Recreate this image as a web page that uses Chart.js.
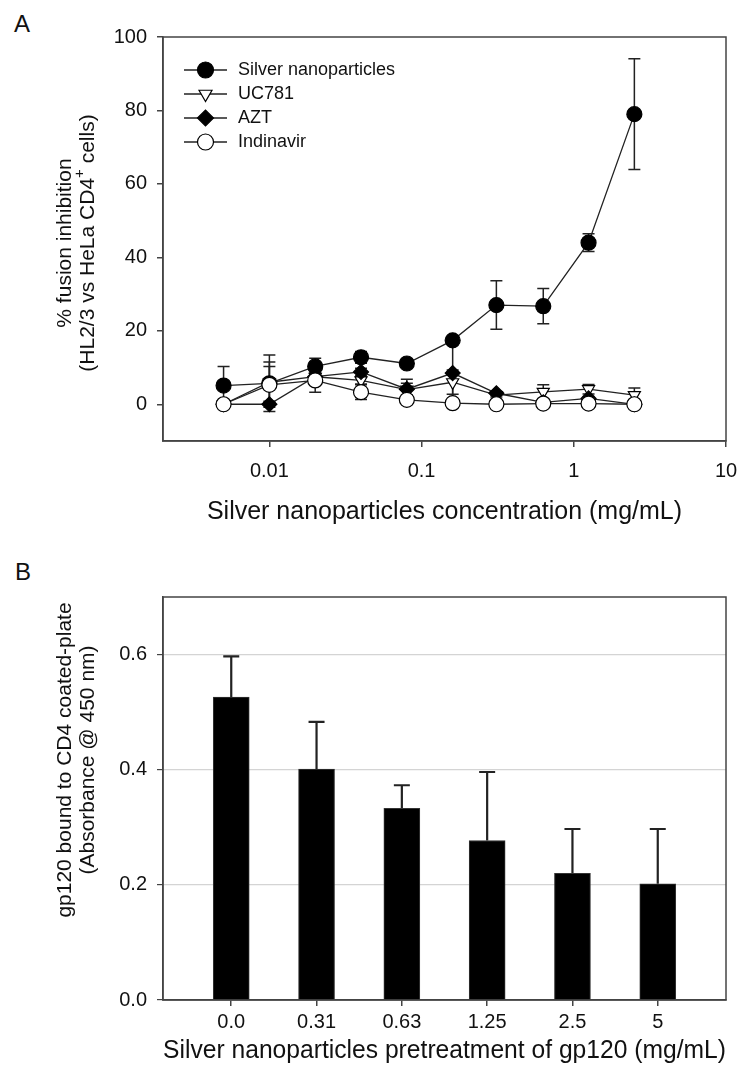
<!DOCTYPE html>
<html>
<head>
<meta charset="utf-8">
<script src="https://cdn.jsdelivr.net/npm/chart.js@4.4.0/dist/chart.umd.min.js"></script>
<style>
    body { margin: 0; background: #fff; width: 739px; height: 1067px; position: relative; overflow: hidden;
           font-family: "Liberation Sans", Arial, sans-serif; }
    .panel { position: absolute; left: 0; width: 739px; }
    #wrapA { top: 0; height: 540px; }
    #wrapB { top: 540px; height: 527px; }
    .panelLabel { position: absolute; font-size: 24px; line-height: 24px; color: #111; }
</style>
</head>
<body>
<div class="panelLabel" style="left:14px; top:12px;">A</div>
<div class="panelLabel" style="left:15px; top:560px;">B</div>
<div class="panel" id="wrapA"><canvas id="fusionChart"></canvas></div>
<div class="panel" id="wrapB"><canvas id="bindingChart"></canvas></div>

<script>
// panel A - fusion inhibition
var concentrations = [0.005, 0.01, 0.02, 0.04, 0.08, 0.16, 0.31, 0.63, 1.25, 2.5];
var concTicks = [0.01, 0.1, 1, 10];
var fusionTicks = [0, 20, 40, 60, 80, 100];

var silverValues = [5.1, 5.7, 10.3, 12.8, 11.1, 17.4, 27.0, 26.7, 44.0, 79.0];
var silverErrors = [5.2, 7.7, 2.2, 1.6, 0.8, 1.0, 6.6, 4.8, 2.4, 15.1];
var uc781Values = [0, 6.0, 7.5, 6.5, 4.0, 6.0, 2.5, 3.4, 4.1, 2.5];
var uc781Errors = [0.5, 5.5, 1.0, 1.0, 2.8, 3.3, 0.5, 1.9, 1.3, 1.9];
var aztValues = [0, 0, 7.5, 8.8, 4.1, 8.5, 3.0, 0.5, 1.6, 0];
var aztErrors = [0.5, 0.8, 1.0, 1.0, 1.6, 9.0, 0.5, 0.5, 0.5, 0.5];
var indinavirValues = [0, 5.3, 6.5, 3.3, 1.2, 0.3, 0, 0.2, 0.2, 0];
var indinavirErrors = [0.5, 5.0, 3.2, 2.0, 0.6, 0.5, 0.3, 0.3, 0.3, 0.3];

// panel B - gp120 binding
var pretreatLabels = ["0.0", "0.31", "0.63", "1.25", "2.5", "5"];
var bindingValues = [0.526, 0.401, 0.333, 0.277, 0.220, 0.202];
var bindingErrors = [0.071, 0.082, 0.040, 0.119, 0.077, 0.095];
var bindingTicks = [0, 0.2, 0.4, 0.6];

var FONT = '"Liberation Sans", Arial, sans-serif';
var AXIS_COLOR = '#444';

function toPoints(xs, ys) {
    return xs.map(function(x, i) { return {x: x, y: ys[i]}; });
}

// error bars, drawn under the markers
var errorBarPlugin = {
    id: 'errorBars',
    beforeDatasetsDraw: function(chart, args, opts) {
        var ctx = chart.ctx;
        ctx.save();
        ctx.strokeStyle = '#222';
        ctx.lineWidth = opts.lineWidth;
        chart.data.datasets.forEach(function(ds, i) {
            if (!ds.errors) return;
            var meta = chart.getDatasetMeta(i);
            var yScale = chart.scales[meta.yAxisID];
            meta.data.forEach(function(el, j) {
                var v = ds.data[j].y;
                var e = ds.errors[j];
                var yTop = yScale.getPixelForValue(v + e);
                var yBot = opts.upOnly ? yScale.getPixelForValue(v) : yScale.getPixelForValue(v - e);
                var half = opts.capWidth / 2;
                ctx.beginPath();
                ctx.moveTo(el.x, yTop); ctx.lineTo(el.x, yBot);
                ctx.moveTo(el.x - half, yTop); ctx.lineTo(el.x + half, yTop);
                if (!opts.upOnly) { ctx.moveTo(el.x - half, yBot); ctx.lineTo(el.x + half, yBot); }
                ctx.stroke();
            });
        });
        ctx.restore();
    }
};

// box round the plot area
var framePlugin = {
    id: 'frame',
    afterDraw: function(chart) {
        var a = chart.chartArea;
        var ctx = chart.ctx;
        ctx.save();
        ctx.strokeStyle = AXIS_COLOR;
        ctx.lineWidth = 1.5;
        ctx.strokeRect(a.left, a.top, a.right - a.left, a.bottom - a.top);
        ctx.restore();
    }
};

// rotated y title, two lines, with optional superscript pieces
var sideTitlePlugin = {
    id: 'sideTitle',
    afterDraw: function(chart, args, opts) {
        var ctx = chart.ctx;
        var normal = opts.size + 'px ' + FONT;
        var small = Math.round(opts.size * 0.7) + 'px ' + FONT;
        ctx.save();
        ctx.translate(opts.x, opts.y);
        ctx.rotate(-Math.PI / 2);
        ctx.fillStyle = '#111';
        ctx.textBaseline = 'middle';
        ctx.textAlign = 'left';
        opts.lines.forEach(function(line, i) {
            var segs = typeof line === 'string' ? [{text: line}] : line;
            var total = 0;
            segs.forEach(function(s) {
                ctx.font = s.sup ? small : normal;
                total += ctx.measureText(s.text).width;
            });
            var cx = -total / 2;
            segs.forEach(function(s) {
                ctx.font = s.sup ? small : normal;
                ctx.fillText(s.text, cx, i * opts.gap + (s.sup ? -opts.size * 0.38 : 0));
                cx += ctx.measureText(s.text).width;
            });
        });
        ctx.restore();
    }
};

// legend with a line through the marker
var lineLegendPlugin = {
    id: 'lineLegend',
    afterDraw: function(chart, args, opts) {
        var ctx = chart.ctx;
        chart.data.datasets.forEach(function(ds, i) {
            var y = opts.top + i * opts.gap;
            var mx = opts.left + opts.lineLength / 2;
            ctx.save();
            ctx.strokeStyle = '#222';
            ctx.lineWidth = 1.3;
            ctx.beginPath();
            ctx.moveTo(opts.left, y);
            ctx.lineTo(opts.left + opts.lineLength, y);
            ctx.stroke();
            ctx.fillStyle = ds.pointBackgroundColor;
            ctx.strokeStyle = ds.pointBorderColor;
            ctx.lineWidth = ds.pointBorderWidth;
            Chart.helpers.drawPoint(ctx, {
                pointStyle: ds.pointStyle,
                rotation: ds.pointRotation || 0,
                radius: ds.pointRadius + 0.5,
                borderWidth: ds.pointBorderWidth
            }, mx, y);
            ctx.fillStyle = '#111';
            ctx.font = opts.size + 'px ' + FONT;
            ctx.textBaseline = 'middle';
            ctx.fillText(ds.label, opts.left + opts.lineLength + 11, y);
            ctx.restore();
        });
    }
};

function seriesStyle(label, values, errors, style, fill, rotation, radius, order) {
    return {
        label: label,
        data: toPoints(concentrations, values),
        errors: errors,
        borderColor: '#222',
        borderWidth: 1.3,
        pointStyle: style,
        pointRotation: rotation,
        pointRadius: radius,
        pointBackgroundColor: fill,
        pointBorderColor: '#000',
        pointBorderWidth: 1.2,
        tension: 0,
        fill: false,
        order: order
    };
}

function noEdgePadding(scale) {
    scale.paddingLeft = 0;
    scale.paddingRight = 0;
}

function drawFusionChart() {
    var ctx = document.getElementById('fusionChart').getContext('2d');
    new Chart(ctx, {
        type: 'line',
        data: {
            datasets: [
                seriesStyle('Silver nanoparticles', silverValues, silverErrors, 'circle', '#000', 0, 7.5, 4),
                seriesStyle('UC781', uc781Values, uc781Errors, 'triangle', '#fff', 180, 7, 3),
                seriesStyle('AZT', aztValues, aztErrors, 'rectRot', '#000', 0, 7.5, 2),
                seriesStyle('Indinavir', indinavirValues, indinavirErrors, 'circle', '#fff', 0, 7.5, 1)
            ]
        },
        options: {
            responsive: true,
            maintainAspectRatio: false,
            animation: false,
            events: [],
            layout: { padding: { top: 37, right: 13, left: 0, bottom: 0 } },
            plugins: {
                legend: { display: false },
                tooltip: { enabled: false },
                errorBars: { capWidth: 12, lineWidth: 1.5, upOnly: false },
                sideTitle: {
                    x: 65, y: 243, gap: 23, size: 21,
                    lines: ['% fusion inhibition',
                            [{text: '(HL2/3 vs HeLa CD4'}, {text: '+', sup: true}, {text: ' cells)'}]]
                },
                lineLegend: { left: 184, top: 70, gap: 24, lineLength: 43, size: 18 }
            },
            scales: {
                x: {
                    type: 'logarithmic',
                    min: 0.002,
                    max: 10,
                    afterBuildTicks: function(scale) {
                        scale.ticks = concTicks.map(function(v) { return {value: v}; });
                    },
                    afterFit: function(scale) { scale.height = 99; noEdgePadding(scale); },
                    grid: { display: true, drawOnChartArea: false, drawTicks: true, tickLength: 6,
                            color: AXIS_COLOR, tickColor: AXIS_COLOR, lineWidth: 1.5 },
                    border: { display: true, color: AXIS_COLOR, width: 1.5 },
                    ticks: {
                        color: '#111', padding: 12, maxRotation: 0, autoSkip: false,
                        font: { family: FONT, size: 20 },
                        callback: function(value) { return String(value); }
                    },
                    title: {
                        display: true,
                        text: 'Silver nanoparticles concentration (mg/mL)',
                        color: '#111',
                        font: { family: FONT, size: 25 },
                        padding: { top: 0, bottom: 13 }
                    }
                },
                y: {
                    min: -10,
                    max: 100,
                    afterBuildTicks: function(scale) {
                        scale.ticks = fusionTicks.map(function(v) { return {value: v}; });
                    },
                    afterFit: function(scale) { scale.width = 163; },
                    grid: { display: true, drawOnChartArea: false, drawTicks: true, tickLength: 6,
                            color: AXIS_COLOR, tickColor: AXIS_COLOR, lineWidth: 1.5 },
                    border: { display: true, color: AXIS_COLOR, width: 1.5 },
                    ticks: { color: '#111', padding: 10, font: { family: FONT, size: 20 } },
                    title: { display: false }
                }
            }
        },
        plugins: [errorBarPlugin, framePlugin, sideTitlePlugin, lineLegendPlugin]
    });
}

function drawBindingChart() {
    var ctx = document.getElementById('bindingChart').getContext('2d');
    var positions = pretreatLabels.map(function(l, i) { return i; });
    new Chart(ctx, {
        type: 'bar',
        data: {
            datasets: [{
                label: 'gp120 bound',
                data: toPoints(positions, bindingValues),
                errors: bindingErrors,
                backgroundColor: '#000',
                borderColor: '#333',
                borderWidth: 1,
                barThickness: 36
            }]
        },
        options: {
            responsive: true,
            maintainAspectRatio: false,
            animation: false,
            events: [],
            layout: { padding: { top: 57, right: 13, left: 0, bottom: 0 } },
            plugins: {
                legend: { display: false },
                tooltip: { enabled: false },
                errorBars: { capWidth: 16, lineWidth: 2.2, upOnly: true },
                sideTitle: {
                    x: 65, y: 220, gap: 23, size: 21,
                    lines: ['gp120 bound to CD4 coated-plate', '(Absorbance @ 450 nm)']
                }
            },
            scales: {
                x: {
                    type: 'linear',
                    min: -0.8,
                    max: 5.8,
                    offset: false,
                    afterBuildTicks: function(scale) {
                        scale.ticks = positions.map(function(v) { return {value: v}; });
                    },
                    afterFit: function(scale) { scale.height = 67; noEdgePadding(scale); },
                    grid: { display: true, offset: false, drawOnChartArea: false, drawTicks: true, tickLength: 6,
                            color: AXIS_COLOR, tickColor: AXIS_COLOR, lineWidth: 1.5 },
                    border: { display: true, color: AXIS_COLOR, width: 1.5 },
                    ticks: {
                        color: '#111', padding: 4, maxRotation: 0, autoSkip: false,
                        font: { family: FONT, size: 20 },
                        callback: function(value) { return pretreatLabels[Math.round(value)]; }
                    },
                    title: {
                        display: true,
                        text: 'Silver nanoparticles pretreatment of gp120 (mg/mL)',
                        color: '#111',
                        font: { family: FONT, size: 25 },
                        padding: { top: 0, bottom: 1 }
                    }
                },
                y: {
                    min: 0,
                    max: 0.7,
                    afterBuildTicks: function(scale) {
                        scale.ticks = bindingTicks.map(function(v) { return {value: v}; });
                    },
                    afterFit: function(scale) { scale.width = 163; },
                    grid: { display: true, drawOnChartArea: true, drawTicks: true, tickLength: 6,
                            color: '#d4d4d4', tickColor: AXIS_COLOR, lineWidth: 1.2 },
                    border: { display: true, color: AXIS_COLOR, width: 1.5 },
                    ticks: {
                        color: '#111', padding: 10, font: { family: FONT, size: 20 },
                        callback: function(value) { return value.toFixed(1); }
                    },
                    title: { display: false }
                }
            }
        },
        plugins: [errorBarPlugin, framePlugin, sideTitlePlugin]
    });
}

drawFusionChart();
drawBindingChart();
</script>
</body>
</html>
